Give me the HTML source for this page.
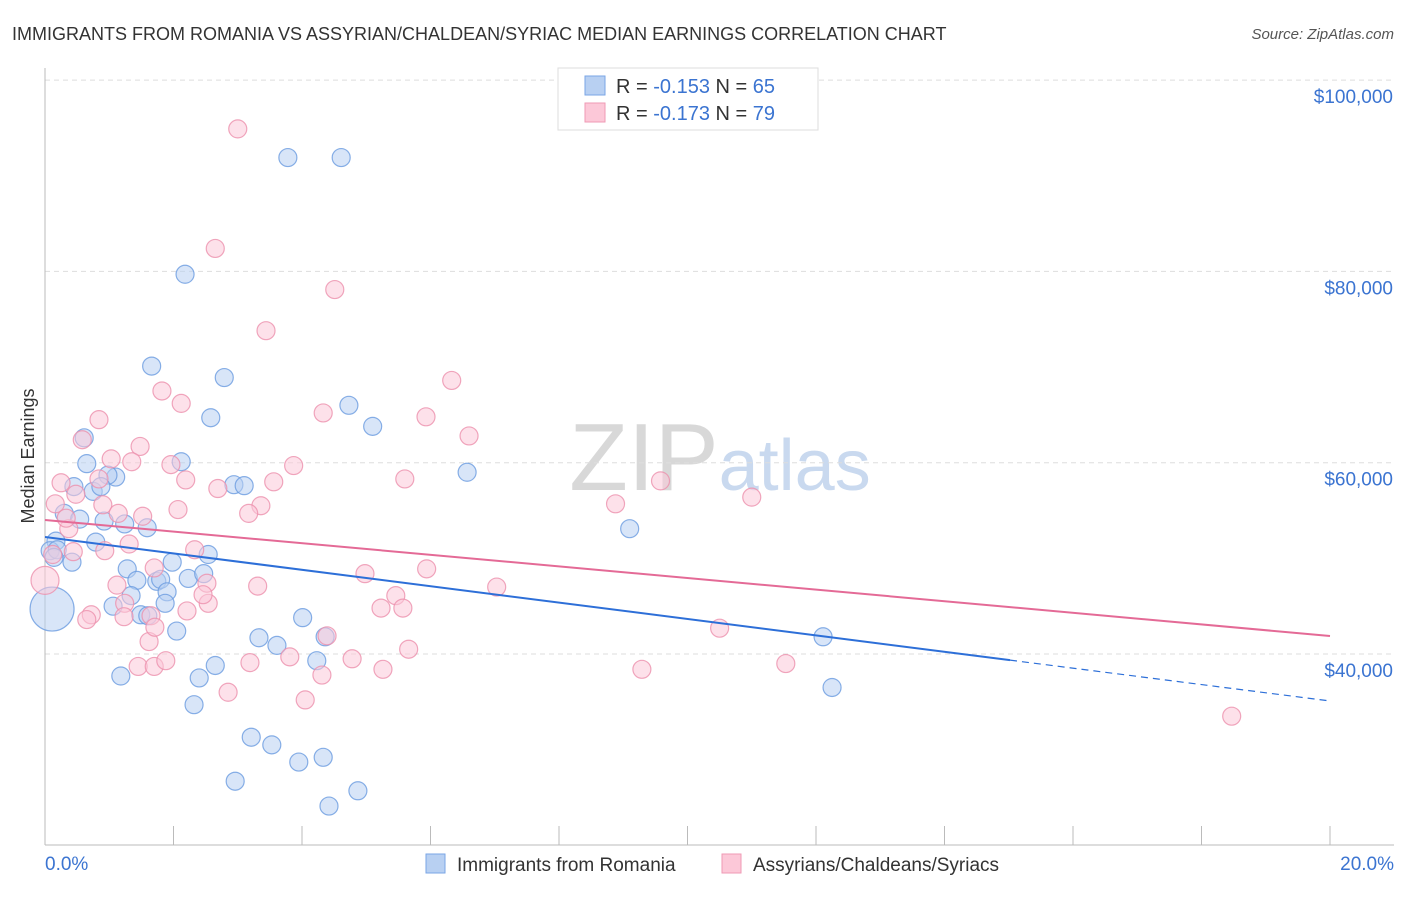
<!DOCTYPE html>
<html><head><meta charset="utf-8"><style>
body{margin:0;background:#fff;font-family:"Liberation Sans",sans-serif}
svg text{font-family:"Liberation Sans",sans-serif}
</style></head><body>
<svg id="chart" width="1406" height="892" xmlns="http://www.w3.org/2000/svg">
<text x="12" y="40" font-size="18" fill="#333">IMMIGRANTS FROM ROMANIA VS ASSYRIAN/CHALDEAN/SYRIAC MEDIAN EARNINGS CORRELATION CHART</text>
<text x="1394" y="39" font-size="15" fill="#555" text-anchor="end" font-style="italic">Source: ZipAtlas.com</text>
<text x="720" y="490" font-size="96" fill="#ddd" text-anchor="middle" font-family="Liberation Serif"><tspan fill="#d8d8d8">ZIP</tspan><tspan fill="#c9d9ef" font-family="Liberation Sans" font-size="72">atlas</tspan></text>
<text transform="translate(34,456) rotate(-90)" font-size="18" fill="#333" text-anchor="middle">Median Earnings</text>
<g id="grid"></g><g id="axes"></g><g id="pts"></g><g id="lines"></g>
<g>
<rect x="558" y="68" width="260" height="62" fill="#fff" stroke="#ddd"/>
<rect x="585" y="76" width="20" height="19" fill="#b8d0f2" stroke="#7aa6e6"/>
<rect x="585" y="103" width="20" height="19" fill="#fcc8d8" stroke="#ef9ab4"/>
<text x="616" y="93" font-size="20" fill="#333">R = <tspan fill="#3b74d1">-0.153</tspan>   N = <tspan fill="#3b74d1">65</tspan></text>
<text x="616" y="120" font-size="20" fill="#333">R = <tspan fill="#3b74d1">-0.173</tspan>   N = <tspan fill="#3b74d1">79</tspan></text>
</g>
<g>
<rect x="426" y="854" width="19" height="19" fill="#b8d0f2" stroke="#7aa6e6"/>
<text x="457" y="871" font-size="19" fill="#333">Immigrants from Romania</text>
<rect x="722" y="854" width="19" height="19" fill="#fcc8d8" stroke="#ef9ab4"/>
<text x="753" y="871" font-size="19" fill="#333">Assyrians/Chaldeans/Syriacs</text>
</g>
</svg>
<script>
const yTicks=[40000,60000,80000,100000];
const yTickLabels=["$40,000","$60,000","$80,000","$100,000"];
const xTickLabels=["0.0%","20.0%"];
const blueX=[3.78,4.61,2.18,1.66,2.79,2.58,4.73,5.10,6.57,9.10,2.12,0.65,1.10,0.98,0.61,0.75,0.87,0.45,0.30,0.54,0.92,1.24,1.59,0.79,0.17,0.08,0.19,0.42,0.14,2.54,2.94,3.10,1.98,1.28,1.43,1.74,1.80,2.23,2.47,1.90,1.34,1.06,1.87,1.49,1.60,2.05,3.33,4.01,3.61,4.36,4.23,2.65,1.18,2.40,2.32,3.21,3.53,3.95,4.33,2.96,4.87,4.42,12.11,12.25,0.11];
const blueY=[91.9,91.9,79.7,70.1,68.9,64.7,66.0,63.8,59.0,53.1,60.1,59.9,58.5,58.7,62.6,57.0,57.5,57.5,54.7,54.1,53.9,53.6,53.2,51.7,51.8,50.8,50.9,49.6,50.1,50.4,57.7,57.6,49.6,48.9,47.7,47.6,47.8,47.9,48.4,46.5,46.1,45.0,45.3,44.1,44.0,42.4,41.7,43.8,40.9,41.8,39.3,38.8,37.7,37.5,34.7,31.3,30.5,28.7,29.2,26.7,25.7,24.1,41.8,36.5,44.7];
const pinkX=[3.00,2.65,4.51,3.44,6.33,1.82,2.12,0.84,0.58,4.33,5.93,6.60,1.48,1.03,1.35,1.96,3.87,5.60,2.19,0.25,0.48,0.84,3.56,2.69,9.58,11.00,8.88,0.16,0.90,3.36,3.17,0.37,1.14,1.52,2.07,0.33,1.31,2.33,0.93,0.44,0.0,0.12,4.98,3.31,1.12,2.52,5.94,7.03,5.46,5.23,5.57,1.24,2.54,0.72,0.65,1.23,1.65,1.62,2.21,4.39,1.71,10.50,3.81,4.78,5.66,1.45,1.70,1.88,3.19,4.31,5.26,9.29,11.53,2.85,4.05,18.47,1.70,2.46];
const pinkY=[94.9,82.4,78.1,73.8,68.6,67.5,66.2,64.5,62.4,65.2,64.8,62.8,61.7,60.4,60.1,59.8,59.7,58.3,58.2,57.9,56.7,58.3,58.0,57.3,58.1,56.4,55.7,55.7,55.6,55.5,54.7,53.1,54.7,54.4,55.1,54.2,51.5,50.9,50.8,50.7,47.7,50.4,48.4,47.1,47.2,47.4,48.9,47.0,46.1,44.8,44.8,45.3,45.3,44.1,43.6,43.9,44.0,41.3,44.5,41.9,42.8,42.7,39.7,39.5,40.5,38.7,38.7,39.3,39.1,37.8,38.4,38.4,39.0,36.0,35.2,33.5,49.0,46.2];
const blueTrend=[52.23,35.09]; const blueSolidEnd=15.02;
const pinkTrend=[54.01,41.88];
const NS="http://www.w3.org/2000/svg";
const xs=v=>45+v*64.25;
const ys=v=>654-(v-40000)*0.009565;
const yk=v=>ys(v*1000);
function mk(tag,attrs,parent){const e=document.createElementNS(NS,tag);for(const k in attrs)e.setAttribute(k,attrs[k]);document.getElementById(parent).appendChild(e);return e;}
yTicks.forEach((t,i)=>{
 const l=mk('line',{x1:45,x2:1394,y1:ys(t),y2:ys(t),stroke:'#ddd','stroke-dasharray':'5,4'},'grid');
 
 
 const tx=mk('text',{x:1393,y:ys(t)+23,'font-size':19,fill:'#3b74d1','text-anchor':'end'},'grid');
 
 
 tx.textContent=yTickLabels[i];
});
const ax=mk('line',{x1:45,x2:45,y1:68,y2:845,stroke:'#bbb'},'axes');


const bx=mk('line',{x1:45,x2:1394,y1:845,y2:845,stroke:'#bbb'},'axes');


for(let i=0;i<=10;i++){const t=mk('line',{x1:xs(i*2),x2:xs(i*2),y1:826,y2:845,stroke:'#bbb'},'axes');
 
 }
[[0,'start',45],[20,'end',1394]].forEach((d,i)=>{const t=mk('text',{x:d[2],y:870,'font-size':19,fill:'#3b74d1','text-anchor':d[1]},'axes');
 
 
 t.textContent=xTickLabels[i];});
function dots(X,Y,fill,stroke,name,big){X.forEach((x,i)=>{
 let r=9; if(big===i) r=(name==='romania-point'?22:14);
 const c=mk('circle',{cx:xs(x),cy:yk(Y[i]),r:r,fill:fill,'fill-opacity':0.55,stroke:stroke,'stroke-opacity':0.8,'stroke-width':1.2},'pts');
 
 
});}
dots(blueX,blueY,'#b8d0f2','#6a9be0','romania-point',64);
dots(pinkX,pinkY,'#fcc8d8','#ec90ad','assyrian-point',40);
const bv=x=>blueTrend[0]+(blueTrend[1]-blueTrend[0])*x/20;
const pv=x=>pinkTrend[0]+(pinkTrend[1]-pinkTrend[0])*x/20;
const l1=mk('line',{x1:xs(0),y1:yk(bv(0)),x2:xs(blueSolidEnd),y2:yk(bv(blueSolidEnd)),stroke:'#2d6fd8','stroke-width':2},'lines');


const l2=mk('line',{x1:xs(blueSolidEnd),y1:yk(bv(blueSolidEnd)),x2:xs(20),y2:yk(bv(20)),stroke:'#2d6fd8','stroke-width':1.2,'stroke-dasharray':'7,5'},'lines');


const l3=mk('line',{x1:xs(0),y1:yk(pv(0)),x2:xs(20),y2:yk(pv(20)),stroke:'#e46a96','stroke-width':2},'lines');


</script>
</body></html>
